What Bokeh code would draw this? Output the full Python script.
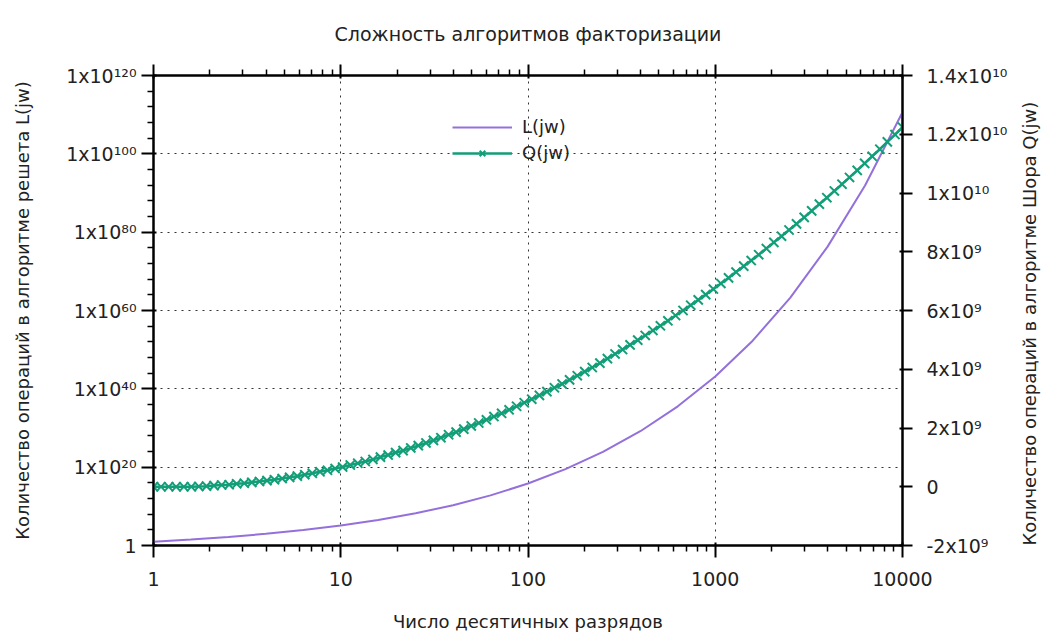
import math
from bokeh.plotting import figure
from bokeh.models import (LogAxis, LinearAxis, Range1d, FixedTicker, LinearScale,
                          CustomJSTickFormatter, Legend, LegendItem)
from bokeh.embed import file_html
from bokeh.resources import INLINE

# ---------------- data ----------------
TITLE = "Сложность алгоритмов факторизации"
X_LABEL = "Число десятичных разрядов"
Y_LABEL = "Количество операций в алгоритме решета L(jw)"
Y2_LABEL = "Количество операций в алгоритме Шора Q(jw)"

# sample positions (log10 of number of decimal digits), 100 samples
JW_LOG10 = [0.000, 0.040, 0.081, 0.121, 0.162, 0.202, 0.242, 0.283, 0.323, 0.364,
            0.404, 0.444, 0.485, 0.525, 0.566, 0.606, 0.646, 0.687, 0.727, 0.768,
            0.808, 0.848, 0.889, 0.929, 0.970, 1.010, 1.051, 1.091, 1.131, 1.172,
            1.212, 1.253, 1.293, 1.333, 1.374, 1.414, 1.455, 1.495, 1.535, 1.576,
            1.616, 1.657, 1.697, 1.737, 1.778, 1.818, 1.859, 1.899, 1.939, 1.980,
            2.020, 2.061, 2.101, 2.141, 2.182, 2.222, 2.263, 2.303, 2.343, 2.384,
            2.424, 2.465, 2.505, 2.545, 2.586, 2.626, 2.667, 2.707, 2.747, 2.788,
            2.828, 2.869, 2.909, 2.949, 2.990, 3.030, 3.071, 3.111, 3.152, 3.192,
            3.232, 3.273, 3.313, 3.354, 3.394, 3.434, 3.475, 3.515, 3.556, 3.596,
            3.636, 3.677, 3.717, 3.758, 3.798, 3.838, 3.879, 3.919, 3.960, 4.000]

# Q(jw) in units of 1e9 operations (right axis)
Q_BILLIONS = [0.00, 0.00, 0.00, 0.00, 0.00, 0.00, 0.01, 0.02, 0.04, 0.06,
              0.07, 0.10, 0.12, 0.15, 0.18, 0.21, 0.24, 0.28, 0.32, 0.36,
              0.41, 0.46, 0.51, 0.56, 0.62, 0.67, 0.74, 0.80, 0.86, 0.93,
              1.01, 1.08, 1.16, 1.23, 1.32, 1.40, 1.49, 1.58, 1.67, 1.77,
              1.86, 1.96, 2.07, 2.17, 2.28, 2.39, 2.50, 2.62, 2.74, 2.86,
              2.98, 3.11, 3.24, 3.37, 3.50, 3.64, 3.78, 3.92, 4.06, 4.21,
              4.36, 4.52, 4.67, 4.83, 4.99, 5.15, 5.32, 5.48, 5.65, 5.83,
              6.00, 6.18, 6.36, 6.54, 6.73, 6.92, 7.11, 7.31, 7.51, 7.70,
              7.90, 8.11, 8.32, 8.53, 8.74, 8.95, 9.17, 9.39, 9.62, 9.84,
              10.07, 10.30, 10.53, 10.77, 11.01, 11.25, 11.49, 11.74, 11.99, 12.24]

# L(jw): log10 of operation count (left axis)
L_JW_LOG10 = [0.0, 0.2, 0.4, 0.6, 0.8, 1.0, 1.2, 1.4, 1.6, 1.8, 2.0,
              2.2, 2.4, 2.6, 2.8, 3.0, 3.2, 3.4, 3.6, 3.8, 4.0]
L_LOG10 = [0.98, 1.53, 2.18, 2.97, 3.93, 5.09, 6.50, 8.22, 10.29, 12.80, 15.83,
           19.49, 23.89, 29.18, 35.53, 43.16, 52.30, 63.23, 76.31, 91.92, 110.61]

X_TICKS = [1, 10, 100, 1000, 10000]
Y_TICKS = [1, 1e20, 1e40, 1e60, 1e80, 1e100, 1e120]
Y2_TICKS = [-2e9, 0, 2e9, 4e9, 6e9, 8e9, 1e10, 1.2e10, 1.4e10]

jw = [10 ** t for t in JW_LOG10]
q = [v * 1e9 for v in Q_BILLIONS]
ljw = [10 ** t for t in L_JW_LOG10]
lval = [10 ** v for v in L_LOG10]

# ---------------- styling ----------------
FONT = "DejaVu Sans"
FS = "18px"
TFS = "19px"
PURPLE = "#9370db"
GREEN = "#129e78"

p = figure(width=1056, height=637, x_axis_type="log", y_axis_type="log",
           x_range=Range1d(1, 10000), y_range=Range1d(1, 1e120),
           output_backend="svg", toolbar_location=None,
           min_border_left=153, min_border_right=154,
           min_border_top=74, min_border_bottom=92,
           title=TITLE)
p.extra_y_ranges = {"q": Range1d(-2e9, 1.4e10)}
p.extra_y_scales = {"q": LinearScale()}

p.title.align = "center"
p.title.text_font = FONT
p.title.text_font_size = "19px"
p.title.text_font_style = "normal"
p.title.text_color = "#222222"
p.title.standoff = 40

p.outline_line_color = "black"
p.outline_line_width = 2
p.background_fill_color = "white"
p.border_fill_color = "white"

x_minor = [m * 10 ** d for d in range(4) for m in range(2, 10)]
xticker = FixedTicker(ticks=X_TICKS, minor_ticks=x_minor)
y_minor = [10.0 ** (4 * k) for k in range(31) if k % 5]
yticker = FixedTicker(ticks=Y_TICKS, minor_ticks=y_minor)

SUP = """
const s = ["\u2070","\u00b9","\u00b2","\u00b3","\u2074","\u2075","\u2076","\u2077","\u2078","\u2079"];
function sup(e) { let o = ""; for (const c of String(e)) { o += (c === "-") ? "\u207b" : s[parseInt(c)]; } return o; }
"""

xfmt = CustomJSTickFormatter(code="return String(Math.round(tick));")
yfmt = CustomJSTickFormatter(code=SUP + """
const e = Math.round(Math.log10(tick));
if (e === 0) { return "1"; }
return "1x10" + sup(e);
""")
y2fmt = CustomJSTickFormatter(code=SUP + """
if (Math.abs(tick) < 1) { return "0"; }
const e = Math.floor(Math.log10(Math.abs(tick)) + 1e-9);
const m = Math.round(tick / Math.pow(10, e) * 10) / 10;
return String(m) + "x10" + sup(e);
""")


def style_axis(ax, tick_out=12, minor_out=6):
    ax.axis_line_color = "black"
    ax.axis_line_width = 2
    ax.major_tick_line_color = "black"
    ax.major_tick_line_width = 2
    ax.minor_tick_line_color = "black"
    ax.minor_tick_line_width = 1.5
    ax.major_tick_out = tick_out
    ax.major_tick_in = 3
    ax.minor_tick_out = minor_out
    ax.minor_tick_in = 0
    ax.major_label_text_font = FONT
    ax.major_label_text_font_size = TFS
    ax.major_label_text_color = "#222222"
    ax.axis_label_text_font = FONT
    ax.axis_label_text_font_size = FS
    ax.axis_label_text_font_style = "normal"
    ax.axis_label_text_color = "#222222"


xa = p.xaxis[0]
xa.ticker = xticker
xa.formatter = xfmt
xa.axis_label = X_LABEL
style_axis(xa)
xa.major_label_standoff = 14
xa.axis_label_standoff = 22

ya = p.yaxis[0]
ya.ticker = yticker
ya.formatter = yfmt
ya.axis_label = Y_LABEL
style_axis(ya)
ya.major_label_standoff = 5
ya.axis_label_standoff = 30

top = LogAxis(ticker=xticker, formatter=CustomJSTickFormatter(code="return '';"))
style_axis(top, tick_out=11, minor_out=6)
top.major_label_text_font_size = "0px"
top.major_label_standoff = 0
p.add_layout(top, "above")

ra = LinearAxis(y_range_name="q", ticker=FixedTicker(ticks=Y2_TICKS, minor_ticks=[]),
                formatter=y2fmt, axis_label=Y2_LABEL)
style_axis(ra, tick_out=10)
ra.major_label_standoff = 14
ra.axis_label_standoff = 19
ra.axis_label_orientation = math.pi / 2
if "axis_label_align" in ra.properties():
    ra.axis_label_align = "start"
p.add_layout(ra, "right")

for g in (p.xgrid[0], p.ygrid[0]):
    g.grid_line_color = "#333333"
    g.grid_line_dash = "2 5"
    g.grid_line_width = 1
p.xgrid[0].ticker = xticker
p.ygrid[0].ticker = yticker

# ---------------- series ----------------
rL = p.line(ljw, lval, line_color=PURPLE, line_width=2)
rQ = p.line(jw, q, y_range_name="q", line_color=GREEN, line_width=2.5)
rQm = p.scatter(jw, q, y_range_name="q", marker="x", size=13,
                line_color=GREEN, line_width=2)

legend = Legend(items=[LegendItem(label="L(jw)", renderers=[rL]),
                       LegendItem(label="Q(jw)", renderers=[rQ, rQm])],
                location=(299, 382), orientation="vertical",
                glyph_width=60, glyph_height=20, label_height=20,
                label_standoff=10, spacing=5, padding=0, margin=0,
                background_fill_alpha=0, border_line_alpha=0,
                label_text_font=FONT, label_text_font_size=FS,
                label_text_color="#222222")
p.add_layout(legend)

html = file_html(p, INLINE, title=TITLE)
with open("out.html", "w", encoding="utf-8") as f:
    f.write(html)
